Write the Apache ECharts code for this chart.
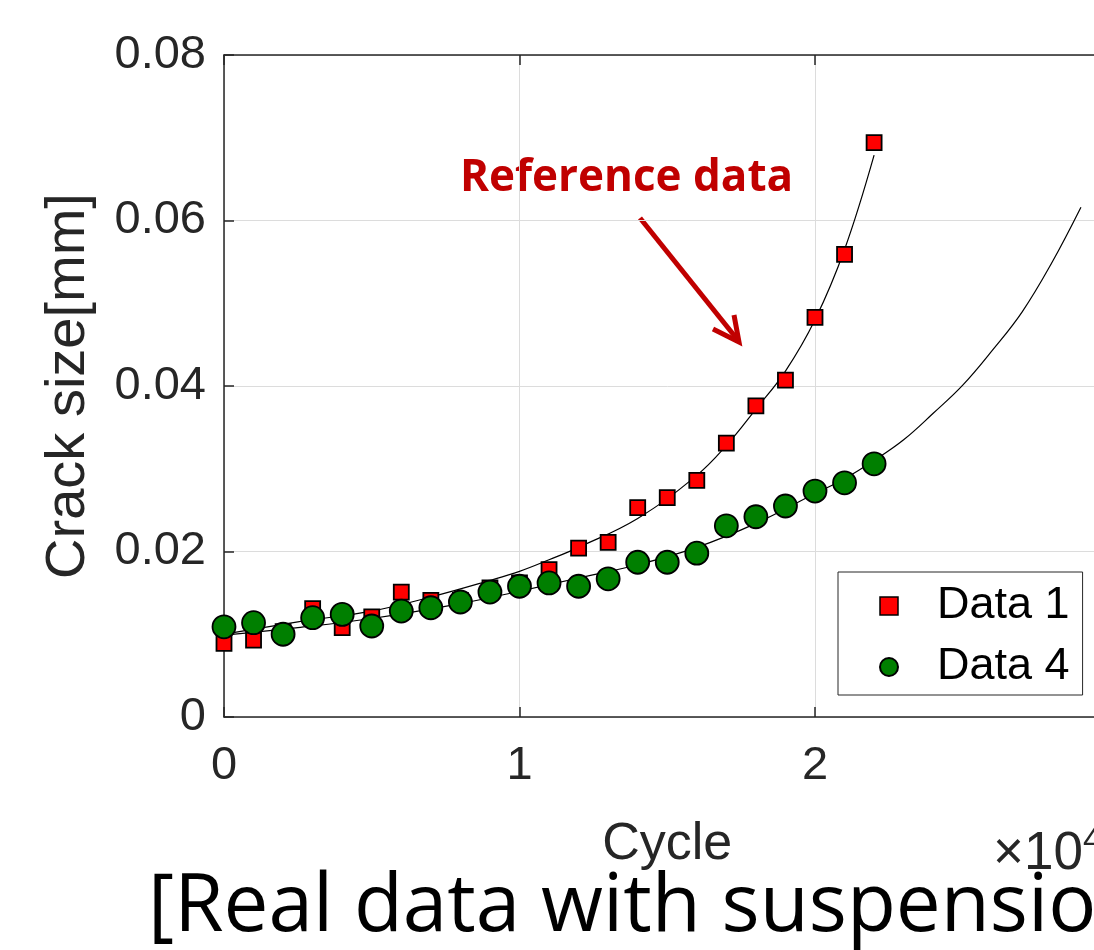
<!DOCTYPE html>
<html>
<head>
<meta charset="utf-8">
<script src="https://cdn.jsdelivr.net/npm/echarts@6/dist/echarts.min.js"></script>
<style>
  html, body { margin: 0; padding: 0; background: #fff; overflow: hidden; }
  #chart { width: 1130px; height: 950px; }
</style>
</head>
<body>
<div id="chart"></div>
<script>
// cycles of the measurements
const cycles = [0, 1000, 2000, 3000, 4000, 5000, 6000, 7000, 8000, 9000, 10000, 11000,
  12000, 13000, 14000, 15000, 16000, 17000, 18000, 19000, 20000, 21000, 22000]
const data1 = [0.0089, 0.0093, 0.0103, 0.0131, 0.0108, 0.0121, 0.0151, 0.0141, 0.0141, 0.0156,
  0.0162, 0.0178, 0.0204, 0.0211, 0.0253, 0.0265, 0.0286, 0.0331, 0.0376, 0.0407, 0.0483, 0.0559, 0.0694]
const data4 = [0.0109, 0.0114, 0.0100, 0.0120, 0.0124, 0.0110, 0.0128, 0.0132, 0.0139, 0.0151,
  0.0158, 0.0162, 0.0158, 0.0167, 0.0187, 0.0187, 0.0198, 0.0231, 0.0242, 0.0255, 0.0273, 0.0283, 0.0306]

// fitted curves
const fit1Cycles = [0, 2500, 5000, 7000, 9000, 10000, 11000, 12000, 14000, 16000, 17000, 18000, 19000, 20000, 21000, 22000]
const fit1 = [0.0100, 0.0115, 0.0128, 0.0145, 0.0165, 0.0176, 0.0190, 0.0205, 0.0240, 0.0292, 0.0328, 0.0372, 0.0418, 0.0480, 0.0565, 0.0679]
const fit4Cycles = [0, 2500, 5000, 8000, 10000, 12000, 14000, 16000, 18000, 20000, 21000, 22000,
  23000, 24000, 25000, 26000, 27000, 28000, 29000]
const fit4 = [0.0099, 0.0108, 0.0119, 0.0137, 0.0152, 0.0168, 0.0184, 0.0205, 0.0234, 0.0270, 0.0288, 0.0310,
  0.0335, 0.0367, 0.0401, 0.0443, 0.0489, 0.0548, 0.0616]

const pair = (xs, ys) => xs.map((x, i) => [x, ys[i]])

const font = 'Liberation Sans, Arial, sans-serif'
const axisColor = '#262626'

const chart = echarts.init(document.getElementById('chart'))

const option = {
  animation: false,
  grid: { left: 224, top: 55, width: 886.5, height: 662 },
  legend: {
    data: [
      { name: 'Data 1', icon: 'rect', itemStyle: { borderWidth: 1.5 } },
      { name: 'Data 4', icon: 'circle' },
    ],
    orient: 'vertical',
    left: 838,
    top: 572,
    itemWidth: 18,
    itemHeight: 18,
    itemGap: 15,
    padding: [11, 13, 5, 41],
    backgroundColor: '#fff',
    borderColor: axisColor,
    borderWidth: 1,
    textStyle: {
      fontFamily: font,
      fontSize: 45,
      lineHeight: 46,
      color: '#000',
      padding: [0, 0, 0, 34],
    },
  },
  xAxis: [
    {
      type: 'value',
      min: 0,
      max: 30000,
      interval: 10000,
      name: 'Cycle',
      nameLocation: 'middle',
      nameGap: 102,
      nameTextStyle: { fontFamily: font, fontSize: 52, color: axisColor },
      axisLine: { onZero: false, lineStyle: { color: axisColor, width: 1.5 } },
      axisTick: { inside: true, length: 10, lineStyle: { color: axisColor, width: 1.5 } },
      axisLabel: {
        fontFamily: font, fontSize: 47, color: axisColor, margin: 26,
        formatter: v => String(v / 10000),
      },
      splitLine: { lineStyle: { color: '#dcdcdc', width: 1 } },
    },
    {
      type: 'value',
      position: 'top',
      min: 0,
      max: 30000,
      interval: 10000,
      axisLine: { onZero: false, lineStyle: { color: axisColor, width: 1.5 } },
      axisTick: { inside: true, length: 10, lineStyle: { color: axisColor, width: 1.5 } },
      axisLabel: { show: false },
      splitLine: { show: false },
    },
  ],
  yAxis: {
    type: 'value',
    min: 0,
    max: 0.08,
    interval: 0.02,
    name: 'Crack size[mm]',
    nameLocation: 'middle',
    nameGap: 127,
    nameTextStyle: { fontFamily: font, fontSize: 56, color: axisColor },
    axisLine: { show: true, lineStyle: { color: axisColor, width: 1.5 } },
    axisTick: { show: true, inside: true, length: 10, lineStyle: { color: axisColor, width: 1.5 } },
    axisLabel: {
      fontFamily: font, fontSize: 47, color: axisColor, margin: 18,
      formatter: v => (v === 0 ? '0' : v.toFixed(2)),
    },
    splitLine: { lineStyle: { color: '#dcdcdc', width: 1 } },
  },
  series: [
    {
      name: 'fit1',
      type: 'line',
      data: pair(fit1Cycles, fit1),
      smooth: 0.4,
      showSymbol: false,
      lineStyle: { color: '#000', width: 1.2 },
      z: 2,
    },
    {
      name: 'fit4',
      type: 'line',
      data: pair(fit4Cycles, fit4),
      smooth: 0.4,
      showSymbol: false,
      lineStyle: { color: '#000', width: 1.2 },
      z: 2,
    },
    {
      name: 'Data 1',
      type: 'scatter',
      symbol: 'rect',
      symbolSize: 15,
      data: pair(cycles, data1),
      itemStyle: { color: '#ff0000', borderColor: '#000', borderWidth: 1.8, opacity: 1 },
      z: 3,
    },
    {
      name: 'Data 4',
      type: 'scatter',
      symbol: 'circle',
      symbolSize: 23,
      data: pair(cycles, data4),
      itemStyle: { color: '#007f00', borderColor: '#000', borderWidth: 1.8, opacity: 1 },
      z: 4,
    },
  ],
  graphic: [
    {
      type: 'text',
      left: 460,
      top: 156,
      style: {
        text: 'Reference data',
        fontFamily: 'Open Sans, sans-serif',
        fontWeight: 'bold',
        fontSize: 44,
        fill: '#c00000',
      },
    },
    {
      type: 'line',
      shape: { x1: 640, y1: 218, x2: 737, y2: 339 },
      style: { stroke: '#c00000', lineWidth: 5 },
    },
    {
      type: 'polyline',
      shape: { points: [[713, 329], [739, 342], [734, 315]] },
      style: { stroke: '#c00000', lineWidth: 5, fill: null },
    },
    {
      type: 'text',
      left: 993,
      top: 824,
      style: {
        text: '{m|×10}{s|4}',
        rich: {
          m: { fontFamily: font, fontSize: 53, fill: axisColor },
          s: { fontFamily: font, fontSize: 34, fill: axisColor, verticalAlign: 'top', padding: [0, 0, 26, 0] },
        },
      },
    },
    {
      type: 'text',
      left: 148,
      top: 868,
      style: {
        text: '[Real data with suspension]',
        fontFamily: 'Open Sans, sans-serif',
        fontSize: 80,
        fill: '#000',
      },
    },
  ],
}

chart.setOption(option)
</script>
</body>
</html>
